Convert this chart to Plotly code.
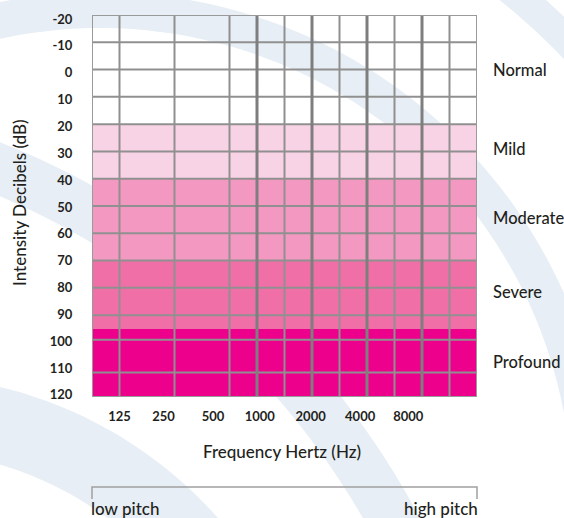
import numpy as np
import plotly.graph_objects as go

# ---------------- data ----------------
db_ticks = [-20, -10, 0, 10, 20, 30, 40, 50, 60, 70, 80, 90, 100, 110, 120]
freq_labels = ["125", "250", "500", "1000", "2000", "4000", "8000"]
freq_label_pos = [1.0, 2.6, 4.4, 6.1, 7.95, 9.75, 11.5]
grid_x_thin = [1, 3, 5, 7, 9, 11, 13]
grid_x_thick = [6, 8, 10, 12]
grid_db = [-10, 0, 10, 20, 30, 40, 50, 60, 70, 80, 90, 99, 111]
band_names = ["Normal", "Mild", "Moderate", "Severe", "Profound"]
band_lo = [-20, 20, 40, 70, 95]
band_hi = [20, 40, 70, 95, 120]
band_colors = ["rgba(0,0,0,0)", "#F8D3E5", "#F398C0", "#F06FA6", "#EC008C"]
band_label_db = [0, 29, 54.5, 81.5, 107]
x_min, x_max = 0, 14
db_min, db_max = -20, 120

# ---------------- layout geometry (pixels) ----------------
W_FIG, H_FIG = 564, 518
L, R, T, B = 92, 477, 15, 397
PW, PH = R - L, B - T


def px_x(p):
    return (p - L) / PW


def px_y(p):
    return (B - p) / PH


def arc_path(cx, cy, r1, r2, a0, a1, n=80):
    th = np.radians(np.linspace(a0, a1, n))
    outer = [(cx + r2 * np.cos(t), cy - r2 * np.sin(t)) for t in th]
    inner = [(cx + r1 * np.cos(t), cy - r1 * np.sin(t)) for t in th[::-1]]
    pts = outer + inner
    s = "M " + " L ".join(f"{px_x(x):.4f},{px_y(y):.4f}" for x, y in pts) + " Z"
    return s


fig = go.Figure()

# hearing-level bands as horizontal bars
centers = [(lo + hi) / 2 for lo, hi in zip(band_lo, band_hi)]
widths = [hi - lo for lo, hi in zip(band_lo, band_hi)]
fig.add_trace(go.Bar(
    y=centers, x=[x_max - x_min] * len(centers), base=[x_min] * len(centers),
    width=widths, orientation="h",
    marker=dict(color=band_colors, line=dict(width=0)),
    hoverinfo="skip", showlegend=False,
))

shapes = []
# decorative background arcs
arc_color = "#E7EEF5"
for cx, cy, r1, r2, a0, a1 in [
    (100, 500, 472, 508, -25, 110),
    (100, 500, 640, 670, 30, 62),
    (-300, 900, 765, 815, 18, 78),
    (-100, 800, 350, 425, 30, 88),
]:
    shapes.append(dict(type="path", xref="paper", yref="paper", layer="below",
                       path=arc_path(cx, cy, r1, r2, a0, a1),
                       fillcolor=arc_color, line=dict(width=0)))

grid_col = "#909090"
for v in grid_db:
    shapes.append(dict(type="line", xref="x", yref="y", x0=x_min, x1=x_max, y0=v, y1=v,
                       line=dict(color=grid_col, width=2), layer="above"))
for v in grid_x_thin:
    shapes.append(dict(type="line", xref="x", yref="y", x0=v, x1=v, y0=db_min, y1=db_max,
                       line=dict(color=grid_col, width=2), layer="above"))
for v in grid_x_thick:
    shapes.append(dict(type="line", xref="x", yref="y", x0=v, x1=v, y0=db_min, y1=db_max,
                       line=dict(color="#7E7E7E", width=3), layer="above"))
# plot border
shapes.append(dict(type="rect", xref="x", yref="y", x0=x_min, x1=x_max, y0=db_min, y1=db_max,
                   line=dict(color="#9A9A9A", width=2), fillcolor="rgba(0,0,0,0)", layer="above"))
# pitch bracket
shapes.append(dict(type="path", xref="paper", yref="paper",
                   path=f"M {px_x(92)},{px_y(499)} L {px_x(92)},{px_y(487)} L {px_x(477)},{px_y(487)} L {px_x(477)},{px_y(499)}",
                   line=dict(color="#A0A0A0", width=1.5)))

txt_col = "#231F20"
font_main = "Lato, 'Open Sans', sans-serif"
annotations = []
for name, v in zip(band_names, band_label_db):
    annotations.append(dict(text=name, xref="paper", yref="y", x=px_x(491), y=v,
                            xanchor="left", yanchor="middle", showarrow=False,
                            font=dict(family=font_main, size=16.5, color=txt_col, weight=500)))
annotations.append(dict(text="Intensity Decibels (dB)", xref="paper", yref="paper",
                        x=px_x(19), y=px_y(203), textangle=-90, xanchor="center", yanchor="middle",
                        showarrow=False, font=dict(family=font_main, size=17, color=txt_col, weight=500)))
annotations.append(dict(text="Frequency Hertz (Hz)", xref="paper", yref="paper",
                        x=px_x(282), y=px_y(451), xanchor="center", yanchor="middle",
                        showarrow=False, font=dict(family=font_main, size=17, color=txt_col, weight=500)))
annotations.append(dict(text="low pitch", xref="paper", yref="paper",
                        x=px_x(89), y=px_y(496), xanchor="left", yanchor="top",
                        showarrow=False, font=dict(family=font_main, size=17, color=txt_col, weight=500)))
annotations.append(dict(text="high pitch", xref="paper", yref="paper",
                        x=px_x(480), y=px_y(496), xanchor="right", yanchor="top",
                        showarrow=False, font=dict(family=font_main, size=17, color=txt_col, weight=500)))

label_pos = np.linspace(-18.5, 119.2, len(db_ticks))

fig.update_layout(
    width=W_FIG, height=H_FIG, autosize=False,
    margin=dict(l=L, r=W_FIG - R, t=T, b=H_FIG - B, pad=0),
    paper_bgcolor="white", plot_bgcolor="rgba(0,0,0,0)",
    shapes=shapes, annotations=annotations, bargap=0,
    xaxis=dict(range=[x_min, x_max], showgrid=False, zeroline=False, showline=False,
               tickmode="array", tickvals=freq_label_pos, ticktext=freq_labels,
               ticks="outside", ticklen=7, tickcolor="rgba(0,0,0,0)",
               tickfont=dict(family=font_main, size=13, color=txt_col, weight="bold"),
               fixedrange=True),
    yaxis=dict(range=[db_max, db_min], showgrid=False, zeroline=False, showline=False,
               tickmode="array", tickvals=list(label_pos), ticktext=[str(v) for v in db_ticks],
               ticks="outside", ticklen=16, tickcolor="rgba(0,0,0,0)",
               tickfont=dict(family=font_main, size=13, color=txt_col, weight="bold"),
               fixedrange=True),
)

fig.write_html(
    "out.html",
    config={"displayModeBar": False},
    post_script="document.body.style.margin='0';document.body.style.overflow='hidden';",
)
